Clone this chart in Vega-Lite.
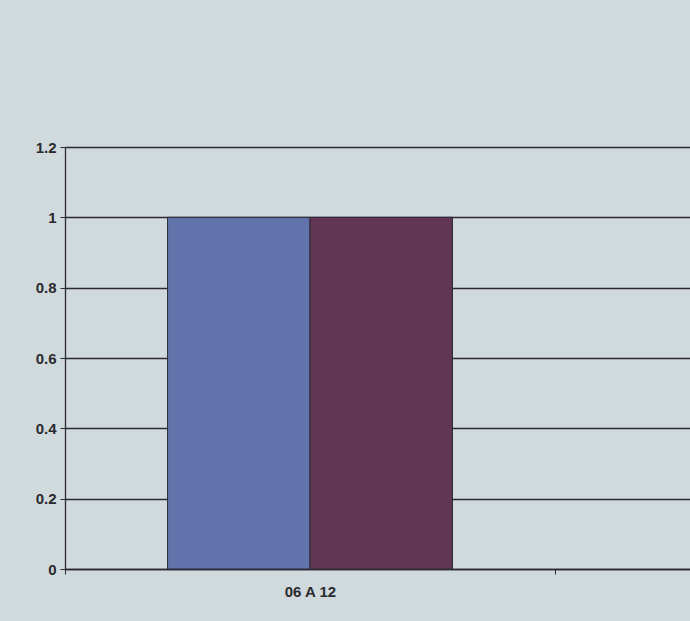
{
  "$schema": "https://vega.github.io/schema/vega-lite/v6.json",
  "autosize": "none",
  "padding": {"left": 65, "top": 147, "right": 0, "bottom": 52},
  "width": 980,
  "height": 422,
  "background": "#d0d9dc",
  "config": {
    "view": {"stroke": null},
    "font": "Liberation Sans",
    "axis": {
      "labelFont": "Liberation Sans",
      "labelFontWeight": "bold",
      "labelFontSize": 15,
      "labelColor": "#2a2a2e",
      "domainColor": "#2a2a30",
      "tickColor": "#2a2a30",
      "gridColor": "#2a2a30",
      "gridOpacity": 1,
      "domainWidth": 1.3,
      "gridWidth": 1.3,
      "title": null
    }
  },
  "data": {
    "values": [
      {"category": "06 A 12", "series": "A", "value": 1},
      {"category": "06 A 12", "series": "B", "value": 1}
    ]
  },
  "mark": {"type": "bar", "stroke": "#2a2a38", "strokeWidth": 1},
  "encoding": {
    "x": {
      "field": "category",
      "type": "nominal",
      "sort": null,
      "scale": {"domain": ["06 A 12", "next"], "paddingInner": 0, "paddingOuter": 0},
      "axis": {
        "labelAngle": 0,
        "tickBand": "extent",
        "tickSize": 5,
        "labelPadding": 10,
        "labelExpr": "datum.value == 'next' ? '' : datum.value",
        "grid": false
      }
    },
    "xOffset": {
      "field": "series",
      "type": "nominal",
      "scale": {"domain": ["A", "B"], "paddingInner": 0, "paddingOuter": 0.72}
    },
    "y": {
      "field": "value",
      "type": "quantitative",
      "scale": {"domain": [0, 1.2], "nice": false},
      "axis": {
        "values": [0, 0.2, 0.4, 0.6, 0.8, 1, 1.2],
        "format": ".1~f",
        "tickSize": 5,
        "labelPadding": 4,
        "grid": true
      }
    },
    "color": {
      "field": "series",
      "type": "nominal",
      "scale": {"domain": ["A", "B"], "range": ["#6272ab", "#603653"]},
      "legend": null
    }
  }
}
